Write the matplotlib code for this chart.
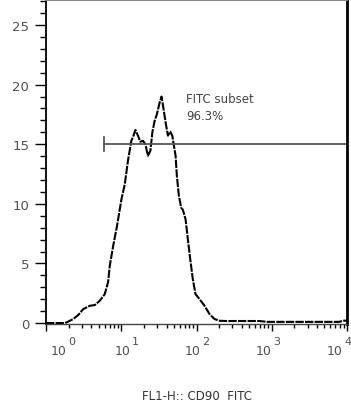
import numpy as np
import matplotlib
matplotlib.use("Agg")
import matplotlib.pyplot as plt

# histogram trace (FL1-H, % of max)
fl1 = [1.0, 1.79, 1.96, 2.30, 2.68, 3.12, 3.83, 4.46, 5.19, 6.04, 6.69, 7.04,
       7.79, 8.79, 10.07, 11.13, 12.30, 13.65, 14.33, 15.42, 16.68, 17.95,
       19.44, 20.92, 22.6, 24.4, 25.9, 27.8, 29.8, 32.4, 34.3, 36.5, 38.8,
       41.7, 44.8, 47.7, 49.6, 52.7, 54.8, 58.3, 62.7, 65.9, 71.5, 76.7,
       82.5, 89.3, 97.0, 109.6, 127.7, 148.7, 173.1, 201.7, 247, 682, 871,
       7834, 9120, 10000]
count = [0.0, 0.0, 0.11, 0.34, 0.67, 1.17, 1.45, 1.51, 1.87, 2.43, 3.44, 4.81,
         6.43, 8.16, 10.4, 11.63, 13.65, 15.32, 15.6, 16.2, 15.72, 15.21,
         15.29, 15.0, 14.04, 14.45, 15.99, 16.98, 17.53, 18.51, 19.0, 17.95,
         16.85, 15.72, 16.05, 15.72, 15.04, 14.04, 12.36, 10.68, 9.66, 9.5,
         8.72, 7.05, 5.37, 3.69, 2.43, 2.01, 1.45, 0.76, 0.34, 0.19, 0.17,
         0.17, 0.1, 0.1, 0.2, 0.2]

# gate
gate_lo = 5.87
gate_hi = 10000
gate_y = 15
gate_name = "FITC subset"
gate_pct = "96.3%"

decades = [0, 1, 2, 3, 4]
yticks = [0, 5, 10, 15, 20, 25]
xlabel = "FL1-H:: CD90  FITC"

fig = plt.figure(figsize=(3.51, 4.10), dpi=100)
ax = fig.add_axes([46 / 351, 85 / 410, 301 / 351, 324 / 410])

ax.plot(fl1, count, color='black', linewidth=1.5, linestyle=(0, (4, 0.6)))

# gate line with end cap
ax.plot([gate_lo, gate_hi], [gate_y, gate_y], color='#555555', linewidth=1.3)
ax.plot([gate_lo, gate_lo], [gate_y - 0.6, gate_y + 0.6], color='#555555', linewidth=1.3)
ax.text(73.5, 19.4, gate_name + "\n" + gate_pct, fontsize=8.5, color='#444444',
        va='top', ha='left', linespacing=1.45)

ax.set_xscale('log')
ax.set_xlim(1, 10 ** 4)
ax.set_ylim(-0.08, 27.1)

ax.set_yticks(yticks)
ax.set_yticks(np.arange(0, 28, 1), minor=True)
ax.tick_params(axis='y', which='major', length=8, width=1, direction='out',
               labelsize=9.5, labelcolor='#505050', pad=4)
ax.tick_params(axis='y', which='minor', length=4, width=1, direction='out')

ax.set_xticks([10 ** d for d in decades])
ax.set_xticklabels([])
ax.tick_params(axis='x', which='major', length=5, width=1, direction='out')
ax.tick_params(axis='x', which='minor', length=3, width=1, direction='out')

# decade labels, drawn as base + exponent like the cytometer software does
shift = [13, 1.5, -3.5, -8.5, -12]
for d, s in zip(decades, shift):
    ax.annotate("10", xy=(10 ** d, 0), xycoords=('data', 'axes fraction'),
                xytext=(s, -27), textcoords='offset pixels', ha='center',
                va='center', fontsize=9, color='#505050')
    ax.annotate(str(d), xy=(10 ** d, 0), xycoords=('data', 'axes fraction'),
                xytext=(s + 13, -17), textcoords='offset pixels', ha='center',
                va='center', fontsize=8, color='#505050')

ax.set_xlabel(xlabel, fontsize=8.5, color='#333333', labelpad=38)

ax.spines['left'].set_linewidth(1.3)
ax.spines['bottom'].set_linewidth(1.0)
ax.spines['bottom'].set_color('#444444')
ax.spines['top'].set_color('#888888')
ax.spines['top'].set_linewidth(1.5)
ax.spines['right'].set_linewidth(2)

plt.savefig("out.png", dpi=100)
